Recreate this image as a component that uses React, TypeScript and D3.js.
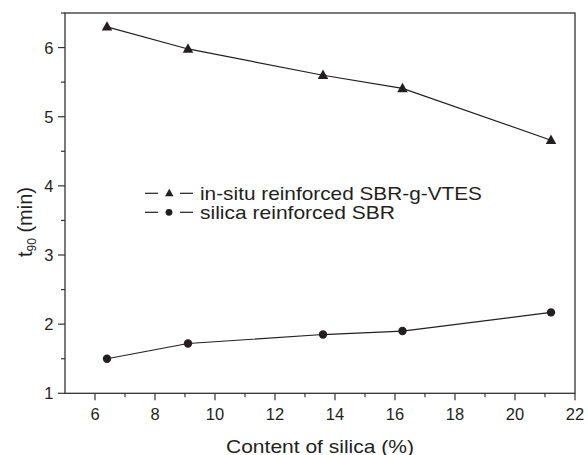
import React from "react";
import * as d3 from "d3";

// Silica content (%) for each compound
const silicaContent = [6.4, 9.1, 13.6, 16.25, 21.2];
// Cure time t90 (min)
const insituSBRgVTES = [6.3, 5.98, 5.6, 5.41, 4.66];
const silicaSBR = [1.5, 1.72, 1.85, 1.9, 2.17];

const seriesNames = ["in-situ reinforced SBR-g-VTES", "silica reinforced SBR"];
const xTicks = [6, 8, 10, 12, 14, 16, 18, 20, 22];
const xMinorTicks = [7, 9, 11, 13, 15, 17, 19, 21];
const yTicks = [1, 2, 3, 4, 5, 6];
const yMinorTicks = [1.5, 2.5, 3.5, 4.5, 5.5, 6.5];

const W = 588;
const H = 455;
const left = 65;
const right = 575;
const top = 13;
const bottom = 393.3;

const ink = "#231f20";
const axisColor = "#333";
const font = "'Liberation Sans', Arial, Helvetica, sans-serif";

function Triangle({ cx, cy, s }: { cx: number; cy: number; s: number }) {
  const h = s * 0.9;
  return (
    <path
      d={`M${cx},${cy - h * 0.6}L${cx + s / 2},${cy + h * 0.4}L${cx - s / 2},${cy + h * 0.4}Z`}
      fill={ink}
    />
  );
}

export default function App() {
  const x = d3.scaleLinear().domain([5, 22]).range([left, right]);
  const y = d3.scaleLinear().domain([1, 6.5]).range([bottom, top]);
  const line = d3
    .line<[number, number]>()
    .x((d) => x(d[0]))
    .y((d) => y(d[1]));

  const triData = silicaContent.map((c, i) => [c, insituSBRgVTES[i]] as [number, number]);
  const circData = silicaContent.map((c, i) => [c, silicaSBR[i]] as [number, number]);

  return (
    <svg
      width={W}
      height={H}
      style={{ position: "absolute", left: 0, top: 0, background: "#fff" }}
      fontFamily={font}
    >
      {/* frame */}
      <rect
        x={left}
        y={top}
        width={right - left}
        height={bottom - top}
        fill="none"
        stroke={axisColor}
        strokeWidth={1.3}
      />
      {/* x ticks */}
      {xTicks.map((t) => (
        <g key={"x" + t}>
          <line x1={x(t)} x2={x(t)} y1={bottom} y2={bottom + 7} stroke={axisColor} strokeWidth={1.2} />
          <text x={x(t)} y={420} fontSize={16.5} textAnchor="middle" fill={ink}>
            {t}
          </text>
        </g>
      ))}
      {xMinorTicks.map((t) => (
        <line key={"xm" + t} x1={x(t)} x2={x(t)} y1={bottom} y2={bottom + 4} stroke={axisColor} strokeWidth={1.2} />
      ))}
      {/* y ticks */}
      {yTicks.map((t) => (
        <g key={"y" + t}>
          <line x1={left - 7} x2={left} y1={y(t)} y2={y(t)} stroke={axisColor} strokeWidth={1.2} />
          <text x={53.5} y={y(t) + 6} fontSize={16.5} textAnchor="end" fill={ink}>
            {t}
          </text>
        </g>
      ))}
      {yMinorTicks.map((t) => (
        <line key={"ym" + t} x1={left - 4} x2={left} y1={y(t)} y2={y(t)} stroke={axisColor} strokeWidth={1.2} />
      ))}

      {/* axis titles */}
      <text
        x={(left + right) / 2}
        y={452.5}
        fontSize={19}
        textAnchor="middle"
        fill={ink}
        textLength={188}
        lengthAdjust="spacingAndGlyphs"
      >
        Content of silica (%)
      </text>
      <text transform="translate(32,222) rotate(-90)" fontSize={20} textAnchor="middle" fill={ink}>
        t<tspan fontSize={12} dy={4}>90</tspan>
        <tspan dy={-4}> (min)</tspan>
      </text>

      {/* series */}
      <path d={line(triData) || ""} fill="none" stroke={ink} strokeWidth={1.2} />
      <path d={line(circData) || ""} fill="none" stroke={ink} strokeWidth={1.2} />
      {triData.map((d, i) => (
        <Triangle key={"t" + i} cx={x(d[0])} cy={y(d[1])} s={10.5} />
      ))}
      {circData.map((d, i) => (
        <circle key={"c" + i} cx={x(d[0])} cy={y(d[1])} r={4.2} fill={ink} />
      ))}

      {/* legend */}
      <g>
        <line x1={145} x2={158} y1={193.3} y2={193.3} stroke={ink} strokeWidth={1.2} />
        <line x1={180} x2={193} y1={193.3} y2={193.3} stroke={ink} strokeWidth={1.2} />
        <Triangle cx={169.3} cy={193.3} s={8.5} />
        <text x={200} y={199.5} fontSize={18.5} fill={ink} textLength={282} lengthAdjust="spacingAndGlyphs">
          {seriesNames[0]}
        </text>
        <line x1={145} x2={158} y1={212.3} y2={212.3} stroke={ink} strokeWidth={1.2} />
        <line x1={180} x2={193} y1={212.3} y2={212.3} stroke={ink} strokeWidth={1.2} />
        <circle cx={169} cy={212.3} r={3.4} fill={ink} />
        <text x={200} y={218.5} fontSize={18.5} fill={ink} textLength={195} lengthAdjust="spacingAndGlyphs">
          {seriesNames[1]}
        </text>
      </g>
    </svg>
  );
}
